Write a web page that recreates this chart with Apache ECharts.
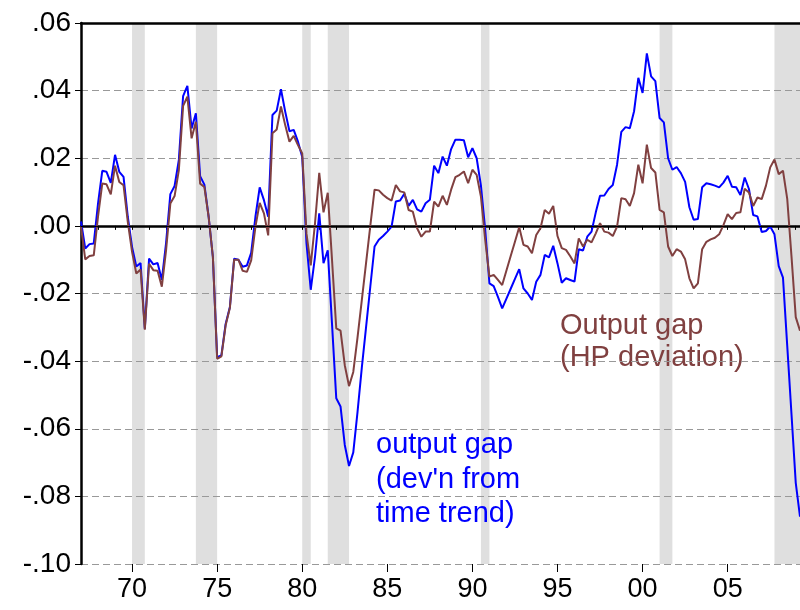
<!DOCTYPE html>
<html>
<head>
<meta charset="utf-8">
<script src="https://cdn.jsdelivr.net/npm/echarts@6/dist/echarts.min.js"></script>
<style>
  html, body { margin: 0; padding: 0; background: #fff; }
  #chart { width: 800px; height: 610px; }
</style>
</head>
<body>
<div id="chart"></div>
<script>
// quarterly output gap, 1967Q1 .. 2009Q2 (one row per year)
const firstYear = 1967

const gapTrend = [
  0.0013, -0.0067, -0.0054, -0.0052,
  0.0066, 0.0163, 0.0160, 0.0127,
  0.0210, 0.0160, 0.0145, 0.0027,
  -0.0062, -0.0120, -0.0110, -0.0304,
  -0.0097, -0.0114, -0.0110, -0.0160,
  -0.0050, 0.0094, 0.0118, 0.0195,
  0.0384, 0.0414, 0.0288, 0.0333,
  0.0147, 0.0122, 0.0027, -0.0092,
  -0.0388, -0.0383, -0.0290, -0.0240,
  -0.0097, -0.0100, -0.0121, -0.0117,
  -0.0080, 0.0027, 0.0114, 0.0076,
  0.0027, 0.0328, 0.0341, 0.0404,
  0.0338, 0.0280, 0.0284, 0.0249,
  0.0204, -0.0052, -0.0189, -0.0092,
  0.0037, -0.0110, -0.0072, -0.0290,
  -0.0510, -0.0534, -0.0648, -0.0710,
  -0.0670, -0.0550, -0.0420, -0.0300,
  -0.0180, -0.0061, -0.0041, -0.0030,
  -0.0017, -0.0002, 0.0072, 0.0075,
  0.0095, 0.0059, 0.0077, 0.0049,
  0.0042, 0.0067, 0.0077, 0.0178,
  0.0156, 0.0205, 0.0178, 0.0227,
  0.0255, 0.0255, 0.0253, 0.0203,
  0.0230, 0.0200, 0.0120, -0.0010,
  -0.0170, -0.0178, -0.0210, -0.0244,
  -0.0215, -0.0186, -0.0157, -0.0128,
  -0.0185, -0.0200, -0.0219, -0.0165,
  -0.0145, -0.0086, -0.0093, -0.0059,
  -0.0111, -0.0168, -0.0155, -0.0160,
  -0.0165, -0.0069, -0.0073, -0.0032,
  -0.0017, 0.0040, 0.0089, 0.0090,
  0.0109, 0.0121, 0.0181, 0.0278,
  0.0292, 0.0289, 0.0339, 0.0438,
  0.0393, 0.0510, 0.0442, 0.0428,
  0.0319, 0.0306, 0.0200, 0.0166,
  0.0174, 0.0156, 0.0130, 0.0055,
  0.0018, 0.0020, 0.0114, 0.0126,
  0.0123, 0.0119, 0.0114, 0.0128,
  0.0148, 0.0116, 0.0114, 0.0091,
  0.0143, 0.0109, 0.0032, 0.0028,
  -0.0018, -0.0015, -0.0002, -0.0025,
  -0.0119, -0.0153, -0.0355, -0.0557,
  -0.0760, -0.0860,
]

const gapHP = [
  -0.0002, -0.0099, -0.0089, -0.0087,
  0.0027, 0.0125, 0.0123, 0.0093,
  0.0178, 0.0130, 0.0120, 0.0012,
  -0.0077, -0.0141, -0.0129, -0.0307,
  -0.0112, -0.0131, -0.0133, -0.0180,
  -0.0072, 0.0066, 0.0088, 0.0165,
  0.0355, 0.0382, 0.0259, 0.0308,
  0.0125, 0.0115, 0.0027, -0.0092,
  -0.0393, -0.0386, -0.0294, -0.0242,
  -0.0100, -0.0100, -0.0133, -0.0136,
  -0.0102, -0.0003, 0.0068, 0.0037,
  -0.0028, 0.0274, 0.0285, 0.0353,
  0.0298, 0.0249, 0.0266, 0.0239,
  0.0214, -0.0023, -0.0117, 0.0007,
  0.0157, 0.0040, 0.0098, -0.0100,
  -0.0303, -0.0310, -0.0412, -0.0474,
  -0.0432, -0.0330, -0.0220, -0.0110,
  0.0000, 0.0107, 0.0105, 0.0092,
  0.0082, 0.0075, 0.0121, 0.0102,
  0.0099, 0.0047, 0.0042, -0.0007,
  -0.0032, -0.0017, -0.0017, 0.0072,
  0.0057, 0.0089, 0.0062, 0.0107,
  0.0144, 0.0151, 0.0161, 0.0126,
  0.0166, 0.0151, 0.0087, -0.0041,
  -0.0150, -0.0145, -0.0160, -0.0175,
  -0.0132, -0.0089, -0.0047, -0.0004,
  -0.0056, -0.0061, -0.0081, -0.0027,
  -0.0007, 0.0047, 0.0036, 0.0059,
  -0.0030, -0.0066, -0.0071, -0.0090,
  -0.0111, -0.0037, -0.0061, -0.0041,
  -0.0049, -0.0022, 0.0008, -0.0017,
  -0.0020, -0.0030, -0.0002, 0.0082,
  0.0079, 0.0059, 0.0097, 0.0181,
  0.0126, 0.0240, 0.0171, 0.0158,
  0.0047, 0.0040, -0.0061, -0.0089,
  -0.0069, -0.0076, -0.0099, -0.0155,
  -0.0185, -0.0170, -0.0069, -0.0047,
  -0.0040, -0.0035, -0.0025, 0.0002,
  0.0035, 0.0020, 0.0038, 0.0040,
  0.0110, 0.0099, 0.0059, 0.0084,
  0.0079, 0.0119, 0.0173, 0.0196,
  0.0153, 0.0163, 0.0080, -0.0090,
  -0.0270, -0.0310,
]

// NBER recessions (shaded)
const recessionStart = ['1970Q1', '1973Q4', '1980Q1', '1981Q3', '1990Q3', '2001Q1', '2007Q4']
const recessionEnd = ['1970Q4', '1975Q1', '1980Q3', '1982Q4', '1991Q1', '2001Q4', '2009Q2']

const yTicks = [-0.10, -0.08, -0.06, -0.04, -0.02, 0.00, 0.02, 0.04, 0.06]

const quarters = []
for (let i = 0; i < gapTrend.length; i++) {
  quarters.push((firstYear + Math.floor(i / 4)) + 'Q' + (i % 4 + 1))
}

const BLUE = '#0000ff'
const BROWN = '#804040'
const FONT = '"Liberation Sans", Arial, sans-serif'

const isYearStart = (idx) => idx % 4 === 0
const isFiveYear = (idx) => idx % 4 === 0 && (firstYear + idx / 4) % 5 === 0

function fmtY(v) {
  if (Math.abs(v) < 1e-9) return '.00'
  return v.toFixed(2).replace('0.', '.')
}

const chart = echarts.init(document.getElementById('chart'), null, { renderer: 'canvas' })

chart.setOption({
  animation: false,
  backgroundColor: '#fff',
  grid: {
    left: 81,
    right: 0,
    top: 23,
    bottom: 46,
    containLabel: false,
    outerBoundsMode: 'none',
  },
  xAxis: [
    {
      type: 'category',
      data: quarters,
      boundaryGap: false,
      position: 'bottom',
      axisLine: { lineStyle: { color: '#000', width: 2.5 } },
      axisTick: { interval: isYearStart, length: 4, lineStyle: { color: '#000', width: 1 } },
      axisLabel: {
        interval: isFiveYear,
        formatter: (v) => v.slice(2, 4),
        color: '#000',
        fontSize: 27,
        fontFamily: FONT,
        margin: 12,
      },
      splitLine: { show: false },
    },
    {
      type: 'category',
      data: quarters,
      boundaryGap: false,
      position: 'bottom',
      axisLine: { show: false },
      axisTick: { interval: isFiveYear, length: 8, lineStyle: { color: '#000', width: 1 } },
      axisLabel: { show: false },
      splitLine: { show: false },
    },
    {
      type: 'category',
      data: quarters,
      boundaryGap: false,
      position: 'top',
      axisLine: { lineStyle: { color: '#000', width: 2.5 } },
      axisTick: { show: false },
      axisLabel: { show: false },
      splitLine: { show: false },
    },
  ],
  yAxis: {
    type: 'value',
    min: yTicks[0],
    max: yTicks[yTicks.length - 1],
    interval: 0.02,
    axisLine: { show: true, lineStyle: { color: '#000', width: 2.5 } },
    axisTick: { show: true, length: 6, lineStyle: { color: '#000', width: 1 } },
    axisLabel: {
      formatter: fmtY,
      color: '#000',
      fontSize: 28,
      fontFamily: FONT,
      margin: 10,
    },
    splitLine: { lineStyle: { color: '#999', width: 1, type: [7, 4] } },
  },
  series: [
    {
      name: 'recessions',
      type: 'line',
      data: [],
      silent: true,
      markArea: {
        silent: true,
        z: -1,
        itemStyle: { color: '#dfdfdf' },
        data: recessionStart.map((s, k) => [{ xAxis: s }, { xAxis: recessionEnd[k] }]),
      },
    },
    {
      name: 'output gap (time trend)',
      type: 'line',
      data: gapTrend,
      symbol: 'none',
      lineStyle: { color: BLUE, width: 2 },
      itemStyle: { color: BLUE },
      markLine: {
        silent: true,
        symbol: 'none',
        label: { show: false },
        lineStyle: { color: '#000', width: 1, type: 'solid' },
        data: [{ yAxis: 0 }],
      },
      z: 3,
    },
    {
      name: 'output gap (HP)',
      type: 'line',
      data: gapHP,
      symbol: 'none',
      lineStyle: { color: BROWN, width: 2 },
      itemStyle: { color: BROWN },
      z: 4,
    },
  ],
  graphic: [
    { type: 'text', x: 560, y: 326, style: { text: 'Output gap', font: '29px ' + FONT, fill: BROWN, verticalAlign: 'middle' } },
    { type: 'text', x: 560, y: 358, style: { text: '(HP deviation)', font: '29px ' + FONT, fill: BROWN, verticalAlign: 'middle' } },
    { type: 'text', x: 376, y: 445, style: { text: 'output gap', font: '29px ' + FONT, fill: BLUE, verticalAlign: 'middle' } },
    { type: 'text', x: 376, y: 480, style: { text: "(dev'n from", font: '29px ' + FONT, fill: BLUE, verticalAlign: 'middle' } },
    { type: 'text', x: 376, y: 514, style: { text: 'time trend)', font: '29px ' + FONT, fill: BLUE, verticalAlign: 'middle' } },
  ],
})
</script>
</body>
</html>
